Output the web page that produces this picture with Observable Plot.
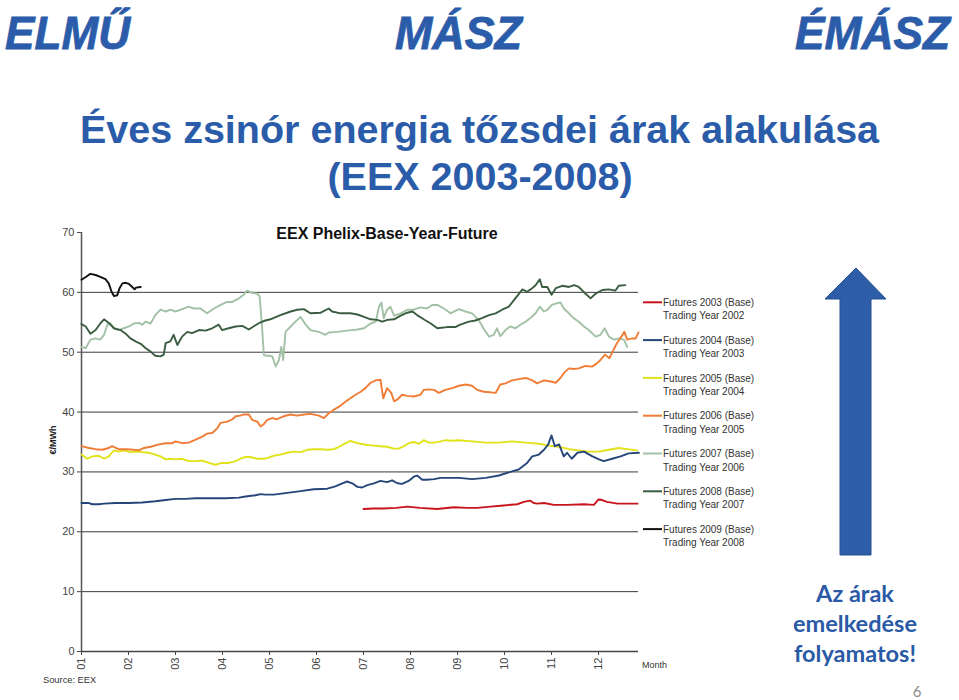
<!DOCTYPE html>
<html>
<head>
<meta charset="utf-8">
<script src="https://cdn.jsdelivr.net/npm/d3@7"></script>
<script src="https://cdn.jsdelivr.net/npm/@observablehq/plot@0.6"></script>
<style>
  html, body { margin: 0; padding: 0; background: #fff; }
  #page { position: relative; width: 959px; height: 700px; overflow: hidden; background: #fff; }
  #chart { position: absolute; left: 30px; top: 220px; }
  #deco { position: absolute; left: 0; top: 0; pointer-events: none; }
</style>
</head>
<body>
<div id="page">
  <div id="chart"></div>
  <svg id="deco" width="959" height="700" xmlns="http://www.w3.org/2000/svg"></svg>
</div>
<script>
// ---------- DATA ----------
const monthTicks = [1, 2, 3, 4, 5, 6, 7, 8, 9, 10, 11, 12];
const monthLabels = ["01", "02", "03", "04", "05", "06", "07", "08", "09", "10", "11", "12"];
const yTicks = [0, 10, 20, 30, 40, 50, 60, 70];
const gridValues = [10, 20, 30, 40, 50, 60];

const legendTitles = ["Futures 2003 (Base)", "Futures 2004 (Base)", "Futures 2005 (Base)", "Futures 2006 (Base)", "Futures 2007 (Base)", "Futures 2008 (Base)", "Futures 2009 (Base)"];
const legendSubs = ["Trading Year 2002", "Trading Year 2003", "Trading Year 2004", "Trading Year 2005", "Trading Year 2006", "Trading Year 2007", "Trading Year 2008"];
const seriesColors = ["#c8141c", "#26467a", "#e2e21a", "#f07c36", "#a2c1a5", "#3a5c40", "#111111"];

// [month position, €/MWh]
const f2003 = [[7.00,23.8],[7.20,23.9],[7.43,23.9],[7.70,24.0],[7.93,24.2],[8.20,24.0],[8.57,23.8],[8.92,24.1],[9.20,24.0],[9.42,24.0],[9.70,24.2],[9.98,24.4],[10.27,24.6],[10.41,25.0],[10.55,25.2],[10.62,24.8],[10.70,24.7],[10.84,24.8],[11.05,24.5],[11.33,24.5],[11.69,24.6],[11.90,24.5],[12.00,25.4],[12.08,25.3],[12.18,25.0],[12.40,24.7],[12.60,24.7],[12.83,24.7]];

const f2004 = [[1.00,24.8],[1.16,24.8],[1.23,24.6],[1.37,24.6],[1.48,24.7],[1.72,24.8],[2.01,24.8],[2.29,24.9],[2.57,25.1],[2.79,25.3],[3.00,25.5],[3.21,25.5],[3.43,25.6],[3.71,25.6],[4.06,25.6],[4.35,25.7],[4.49,25.9],[4.70,26.1],[4.81,26.3],[4.91,26.2],[5.09,26.2],[5.38,26.5],[5.66,26.8],[5.94,27.1],[6.23,27.2],[6.40,27.6],[6.55,28.1],[6.65,28.4],[6.76,28.1],[6.87,27.5],[6.97,27.4],[7.08,27.8],[7.22,28.1],[7.36,28.5],[7.50,28.3],[7.61,28.6],[7.72,28.1],[7.82,28.0],[7.96,28.5],[8.07,29.2],[8.14,29.4],[8.25,28.7],[8.35,28.7],[8.50,28.8],[8.64,29.0],[8.78,29.0],[9.03,29.0],[9.31,28.8],[9.60,29.0],[9.88,29.4],[10.16,30.1],[10.30,30.4],[10.48,31.5],[10.59,32.6],[10.73,32.9],[10.84,33.7],[10.93,34.6],[11.00,36.1],[11.07,34.3],[11.16,34.6],[11.26,32.6],[11.33,33.2],[11.43,32.2],[11.55,33.2],[11.69,33.4],[11.87,32.6],[12.01,32.1],[12.11,31.8],[12.29,32.2],[12.47,32.6],[12.64,33.1],[12.86,33.2]];

const f2005 = [[1.00,32.9],[1.12,32.2],[1.23,32.6],[1.37,32.7],[1.48,32.2],[1.58,32.6],[1.69,33.6],[1.79,33.4],[1.90,33.6],[2.04,33.3],[2.15,33.4],[2.29,33.3],[2.43,33.2],[2.57,32.9],[2.68,32.6],[2.79,32.1],[2.89,32.2],[3.00,32.1],[3.14,32.2],[3.28,31.8],[3.43,31.8],[3.57,31.9],[3.71,31.5],[3.85,31.2],[3.99,31.5],[4.13,31.5],[4.28,31.8],[4.38,32.2],[4.49,32.5],[4.59,32.5],[4.74,32.2],[4.88,32.2],[4.95,32.3],[5.09,32.7],[5.23,32.9],[5.38,33.2],[5.52,33.4],[5.66,33.3],[5.80,33.7],[5.94,33.8],[6.09,33.8],[6.23,33.7],[6.37,33.8],[6.48,34.2],[6.62,34.8],[6.72,35.2],[6.83,34.9],[6.94,34.7],[7.08,34.5],[7.22,34.4],[7.36,34.3],[7.50,34.2],[7.65,33.9],[7.75,33.9],[7.86,34.3],[7.96,34.8],[8.07,35.0],[8.18,34.7],[8.28,35.3],[8.39,34.9],[8.50,34.9],[8.64,35.1],[8.74,35.3],[8.85,35.2],[9.03,35.3],[9.31,35.1],[9.60,34.9],[9.88,34.9],[10.16,35.1],[10.45,34.9],[10.73,34.7],[10.94,34.4],[11.16,34.2],[11.37,33.8],[11.58,33.6],[11.79,33.4],[12.01,33.4],[12.22,33.7],[12.43,34.0],[12.61,33.8],[12.82,33.6]];

const f2006 = [[1.00,34.3],[1.16,34.0],[1.30,33.8],[1.44,33.7],[1.58,34.0],[1.65,34.3],[1.79,33.8],[1.97,33.8],[2.11,33.7],[2.22,33.6],[2.33,34.0],[2.47,34.2],[2.65,34.6],[2.79,34.8],[2.93,34.8],[3.00,35.1],[3.14,34.8],[3.28,34.9],[3.43,35.4],[3.57,35.9],[3.67,36.4],[3.78,36.5],[3.89,37.3],[3.96,38.2],[4.10,38.4],[4.21,38.8],[4.28,39.3],[4.38,39.4],[4.45,39.6],[4.56,39.6],[4.63,38.7],[4.74,38.4],[4.81,37.6],[4.88,38.0],[4.95,38.7],[5.06,39.0],[5.16,38.8],[5.30,39.3],[5.45,39.6],[5.59,39.4],[5.73,39.6],[5.87,39.7],[6.05,39.4],[6.16,39.0],[6.26,39.8],[6.37,40.4],[6.48,40.9],[6.58,41.5],[6.72,42.3],[6.83,42.9],[6.94,43.4],[7.04,44.0],[7.15,44.9],[7.26,45.3],[7.36,45.4],[7.42,42.3],[7.50,44.0],[7.59,43.2],[7.65,41.8],[7.72,42.1],[7.82,42.9],[7.93,42.7],[8.07,42.6],[8.21,42.9],[8.28,43.7],[8.39,43.8],[8.50,43.7],[8.60,43.2],[8.74,43.7],[8.89,44.0],[9.03,44.4],[9.17,44.6],[9.31,44.4],[9.42,43.7],[9.56,43.4],[9.70,43.3],[9.81,43.2],[9.91,44.6],[10.02,44.8],[10.16,45.3],[10.30,45.5],[10.45,45.7],[10.59,45.3],[10.69,44.8],[10.84,45.3],[10.98,45.1],[11.09,44.9],[11.19,45.7],[11.26,46.5],[11.37,47.3],[11.47,47.2],[11.58,47.3],[11.72,47.7],[11.86,47.6],[11.96,48.1],[12.04,48.7],[12.14,49.6],[12.23,49.0],[12.32,50.4],[12.39,51.5],[12.46,52.3],[12.55,53.4],[12.61,52.1],[12.72,52.3],[12.79,52.3],[12.85,53.3]];

const f2007 = [[1.00,50.9],[1.09,50.7],[1.19,52.1],[1.30,52.3],[1.40,52.1],[1.48,52.9],[1.55,54.6],[1.62,54.8],[1.69,54.0],[1.79,53.7],[1.90,54.0],[2.01,54.3],[2.11,54.8],[2.22,54.9],[2.29,54.6],[2.36,55.1],[2.47,54.8],[2.57,56.2],[2.68,57.1],[2.79,56.8],[2.89,57.1],[3.00,56.8],[3.14,57.2],[3.28,57.6],[3.39,57.3],[3.53,57.3],[3.67,56.5],[3.82,57.3],[3.96,57.9],[4.10,58.4],[4.21,58.4],[4.35,59.0],[4.45,59.6],[4.52,60.3],[4.63,59.9],[4.74,59.8],[4.79,59.3],[4.84,54.3],[4.88,49.5],[4.99,49.4],[5.06,49.3],[5.13,47.6],[5.20,48.7],[5.25,50.9],[5.29,48.7],[5.34,53.4],[5.45,54.3],[5.55,55.1],[5.66,55.9],[5.77,54.6],[5.87,53.7],[6.05,53.4],[6.19,52.9],[6.26,53.3],[6.44,53.4],[6.65,53.6],[6.87,53.8],[7.01,54.0],[7.15,54.8],[7.26,55.1],[7.33,57.6],[7.38,58.3],[7.43,55.7],[7.50,57.1],[7.57,57.6],[7.65,56.1],[7.79,56.5],[7.93,57.1],[8.07,57.1],[8.21,57.5],[8.35,57.3],[8.46,57.9],[8.57,57.9],[8.71,57.3],[8.85,56.5],[9.03,57.2],[9.17,56.8],[9.31,56.5],[9.45,55.4],[9.55,54.0],[9.67,52.6],[9.77,52.9],[9.84,54.0],[9.91,52.7],[10.02,53.7],[10.12,54.3],[10.23,54.0],[10.34,54.6],[10.45,55.1],[10.55,55.7],[10.66,56.5],[10.75,57.6],[10.84,56.8],[10.91,57.1],[11.01,57.9],[11.12,58.2],[11.19,58.3],[11.26,57.3],[11.37,56.5],[11.47,55.7],[11.58,55.1],[11.69,54.3],[11.79,53.7],[11.94,52.6],[12.04,52.9],[12.13,54.0],[12.22,52.6],[12.33,52.1],[12.43,52.3],[12.54,52.1],[12.61,50.9]];

const f2008 = [[1.00,54.7],[1.09,54.3],[1.19,53.1],[1.30,53.7],[1.40,54.8],[1.48,55.5],[1.58,54.9],[1.69,54.0],[1.83,53.7],[1.94,53.1],[2.04,52.3],[2.15,51.8],[2.26,51.4],[2.36,50.7],[2.47,50.1],[2.57,49.4],[2.68,49.3],[2.75,49.6],[2.79,51.5],[2.89,51.8],[2.96,52.9],[3.04,51.2],[3.14,52.6],[3.25,53.4],[3.35,53.2],[3.50,53.7],[3.64,53.6],[3.78,54.0],[3.92,54.6],[3.99,53.7],[4.13,54.0],[4.28,54.3],[4.42,54.4],[4.56,53.8],[4.70,54.5],[4.81,55.0],[4.91,55.3],[5.02,55.5],[5.23,56.2],[5.45,56.8],[5.59,57.1],[5.73,57.2],[5.87,56.5],[6.09,56.6],[6.26,57.3],[6.33,56.8],[6.51,56.5],[6.72,56.5],[6.87,56.3],[7.01,55.9],[7.15,55.5],[7.29,55.4],[7.40,55.1],[7.51,55.4],[7.65,55.5],[7.79,56.1],[7.93,56.6],[8.04,56.8],[8.14,56.2],[8.28,55.5],[8.43,54.8],[8.57,54.0],[8.78,54.2],[8.95,54.2],[9.06,54.6],[9.24,55.1],[9.38,55.3],[9.52,55.7],[9.67,56.2],[9.81,56.5],[9.95,57.1],[10.09,57.6],[10.20,58.7],[10.31,59.8],[10.38,60.5],[10.48,60.1],[10.59,60.7],[10.66,61.2],[10.75,62.2],[10.80,60.9],[10.91,60.9],[11.00,59.6],[11.09,60.7],[11.23,61.1],[11.37,60.9],[11.48,61.2],[11.58,60.9],[11.72,59.8],[11.83,59.0],[11.94,59.8],[12.08,60.4],[12.22,60.5],[12.36,60.3],[12.43,61.1],[12.57,61.2]];

const f2009 = [[1.00,62.1],[1.10,62.6],[1.19,63.1],[1.30,62.9],[1.40,62.6],[1.51,62.2],[1.58,61.5],[1.64,60.1],[1.69,59.4],[1.76,59.5],[1.81,60.7],[1.87,61.5],[1.94,61.6],[2.01,61.4],[2.08,60.9],[2.13,60.5],[2.16,60.8],[2.26,60.9]];

const seriesData = [f2003, f2004, f2005, f2006, f2007, f2008, f2009];
const drawOrder = [4, 5, 6, 2, 3, 1, 0];

// ---------- CHART ----------
const rows = drawOrder.flatMap(i => seriesData[i].map(([m, v]) => ({m, v, s: legendTitles[i]})));
const FONT = '"Liberation Sans", Arial, sans-serif';

const chart = Plot.plot({
  width: 650,
  height: 480,
  marginLeft: 51,
  marginRight: 42,
  marginTop: 12,
  marginBottom: 49,
  style: {fontFamily: FONT, fontSize: "11px", color: "#444", background: "transparent", overflow: "visible"},
  x: {domain: [1, 12.85]},
  y: {domain: [0, 70]},
  color: {domain: legendTitles, range: seriesColors},
  marks: [
    Plot.ruleY(gridValues, {stroke: "#3a3a3a", strokeWidth: 1}),
    Plot.axisY({ticks: yTicks, tickSize: 4, tickPadding: 3, label: null, color: "#444"}),
    Plot.axisX({ticks: monthTicks, tickSize: 4, tickPadding: 2, tickRotate: -90,
      tickFormat: d => monthLabels[monthTicks.indexOf(d)], label: null, color: "#444"}),
    Plot.ruleX([1], {stroke: "#555", strokeWidth: 1.5}),
    Plot.ruleY([0], {stroke: "#444", strokeWidth: 1.6}),
    Plot.line(rows, {x: "m", y: "v", z: "s", stroke: "s", strokeWidth: 1.9, strokeLinejoin: "round"})
  ]
});
document.getElementById("chart").appendChild(chart);

// ---------- DECORATION / TEXTS ----------
const NS = "http://www.w3.org/2000/svg";
const deco = document.getElementById("deco");
function el(tag, attrs, text) {
  const e = document.createElementNS(NS, tag);
  for (const k in attrs) e.setAttribute(k, attrs[k]);
  if (text != null) e.textContent = text;
  deco.appendChild(e);
  return e;
}
const BLUE = "#2b5ca9";

// logos
const logos = [["ELMŰ", 5, 125], ["MÁSZ", 395, 127], ["ÉMÁSZ", 795, 155]];
for (const [t, x, w] of logos) {
  el("text", {x, y: 49, "font-family": FONT, "font-weight": "bold", "font-style": "italic", "font-size": 47,
    fill: BLUE, stroke: BLUE, "stroke-width": 0.8, textLength: w, lengthAdjust: "spacingAndGlyphs"}, t);
}

// slide title
el("text", {x: 479.5, y: 143, "text-anchor": "middle", "font-family": FONT, "font-weight": "bold", "font-size": 39.5, fill: BLUE}, "Éves zsinór energia tőzsdei árak alakulása");
el("text", {x: 480, y: 190, "text-anchor": "middle", "font-family": FONT, "font-weight": "bold", "font-size": 39.5, fill: BLUE}, "(EEX 2003-2008)");

// chart title
el("text", {x: 387, y: 239, "text-anchor": "middle", "font-family": FONT, "font-weight": "bold", "font-size": 16, fill: "#111"}, "EEX Phelix-Base-Year-Future");

// y label
el("text", {transform: "translate(56,440) rotate(-90)", "text-anchor": "middle", "font-family": FONT, "font-weight": "bold", "font-size": 9, fill: "#222"}, "€/MWh");

// Month / Source
el("text", {x: 642, y: 668, "font-family": FONT, "font-size": 9, fill: "#333"}, "Month");
el("text", {x: 43, y: 683, "font-family": FONT, "font-size": 9.3, fill: "#333"}, "Source: EEX");

// legend
legendTitles.forEach((t, i) => {
  const y0 = 302.3 + i * 37.8;
  el("line", {x1: 643, x2: 662, y1: y0, y2: y0, stroke: seriesColors[i], "stroke-width": 2});
  el("text", {x: 663, y: y0 + 3.6, "font-family": FONT, "font-size": 10, fill: "#333"}, t);
  el("text", {x: 663, y: y0 + 17, "font-family": FONT, "font-size": 10, fill: "#333"}, legendSubs[i]);
});

// arrow
el("polygon", {points: "840,299 825,299 856,268 886,299 871,299 871,555 840,555", fill: "#2e5ea8", stroke: "#264f8e", "stroke-width": 1});

// callout text
const CAL = 'Lato, "Open Sans", sans-serif';
[["Az árak", 602], ["emelkedése", 632], ["folyamatos!", 662]].forEach(([t, y]) => {
  el("text", {x: 855, y, "text-anchor": "middle", "font-family": CAL, "font-weight": "bold", "font-size": 23.5, fill: "#2a5aa6"}, t);
});

// page number
el("text", {x: 917, y: 697, "text-anchor": "middle", "font-family": CAL, "font-size": 15, fill: "#8c8c8c"}, "6");
</script>
</body>
</html>
